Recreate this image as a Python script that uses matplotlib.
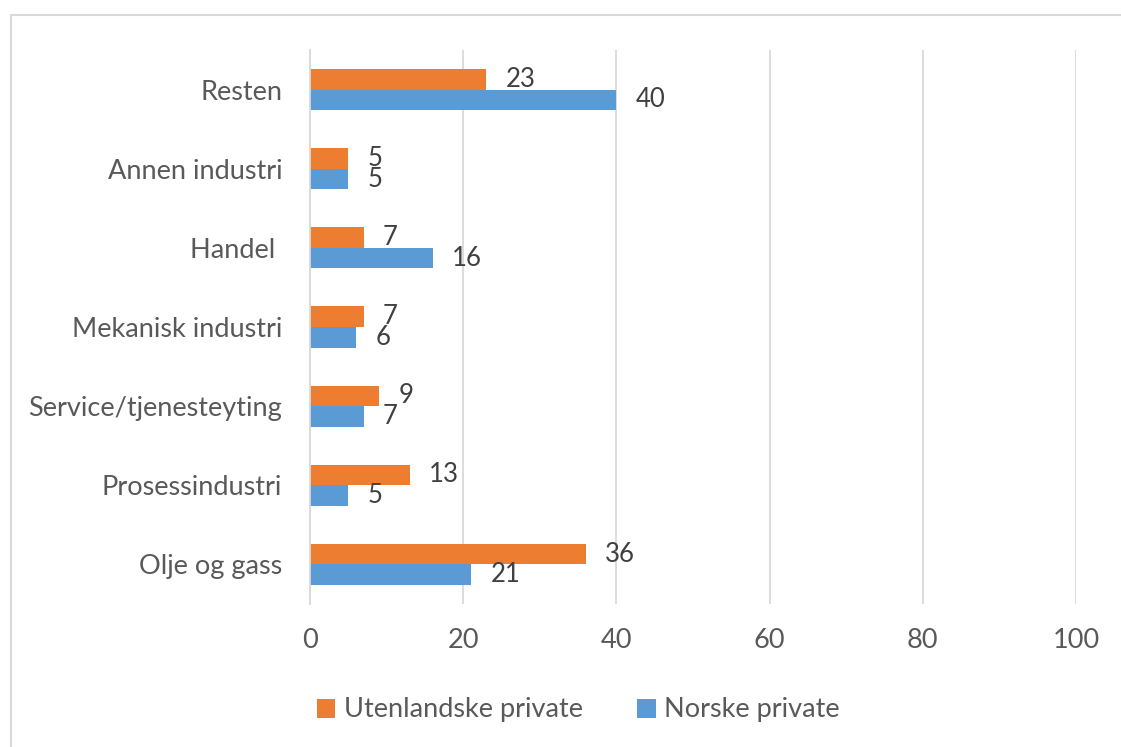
import numpy as np
import matplotlib
matplotlib.use('Agg')
import matplotlib.pyplot as plt
from matplotlib.lines import Line2D

# data, bottom to top
sektorer = ['Olje og gass', 'Prosessindustri', 'Service/tjenesteyting',
            'Mekanisk industri', 'Handel ', 'Annen industri', 'Resten']
utenlandske = [36, 13, 9, 7, 7, 5, 23]
norske = [21, 5, 7, 6, 16, 5, 40]
x_ticks = [0, 20, 40, 60, 80, 100]

ORANGE = '#ED7D31'
BLUE = '#5B9BD5'
GRID = '#D9D9D9'
TXT = '#595959'

plt.rcParams['font.family'] = ['Lato', 'DejaVu Sans']

W, H = 1121, 747
fig = plt.figure(figsize=(W / 100, H / 100), dpi=100)
ax = fig.add_axes([310 / W, 1 - 604 / H, (1076 - 310) / W, (604 - 50) / H])

y = np.arange(len(sektorer))
h = 0.26
b1 = ax.barh(y + h / 2, utenlandske, height=h, color=ORANGE, label='Utenlandske private', zorder=3)
b2 = ax.barh(y - h / 2, norske, height=h, color=BLUE, label='Norske private', zorder=3)

# value labels at the end of each bar
for bars in (b1, b2):
    ax.bar_label(bars, labels=[str(v) for v in bars.datavalues], padding=14,
                 fontsize=18.5, color='#404040')

ax.set_xlim(0, 100)
ax.set_ylim(-0.5, len(sektorer) - 0.5)
ax.set_xticks(x_ticks)
ax.set_yticks(y)
ax.set_yticklabels(sektorer)
ax.tick_params(axis='y', length=0, pad=20, labelsize=19.5, labelcolor=TXT)
ax.tick_params(axis='x', length=0, pad=17, labelsize=19.5, labelcolor=TXT)
ax.grid(axis='x', color=GRID, linewidth=1.3, zorder=0)
for s in ['top', 'right', 'bottom']:
    ax.spines[s].set_visible(False)
ax.spines['left'].set_color(GRID)
ax.spines['left'].set_linewidth(1.3)
ax.spines['left'].set_zorder(4)

fig.legend(loc='center', bbox_to_anchor=(578 / W, 1 - 710 / H), ncol=2, frameon=False,
           fontsize=19.5, labelcolor=TXT, handlelength=0.7, handleheight=0.7,
           handletextpad=0.3, columnspacing=2.0)

# outer chart frame
fig.add_artist(Line2D([11 / W, 11 / W], [0, 1 - 15 / H], color=GRID, linewidth=1.5))
fig.add_artist(Line2D([11 / W, 1], [1 - 15 / H, 1 - 15 / H], color=GRID, linewidth=1.5))

fig.savefig('out.png', dpi=100, facecolor='white')
